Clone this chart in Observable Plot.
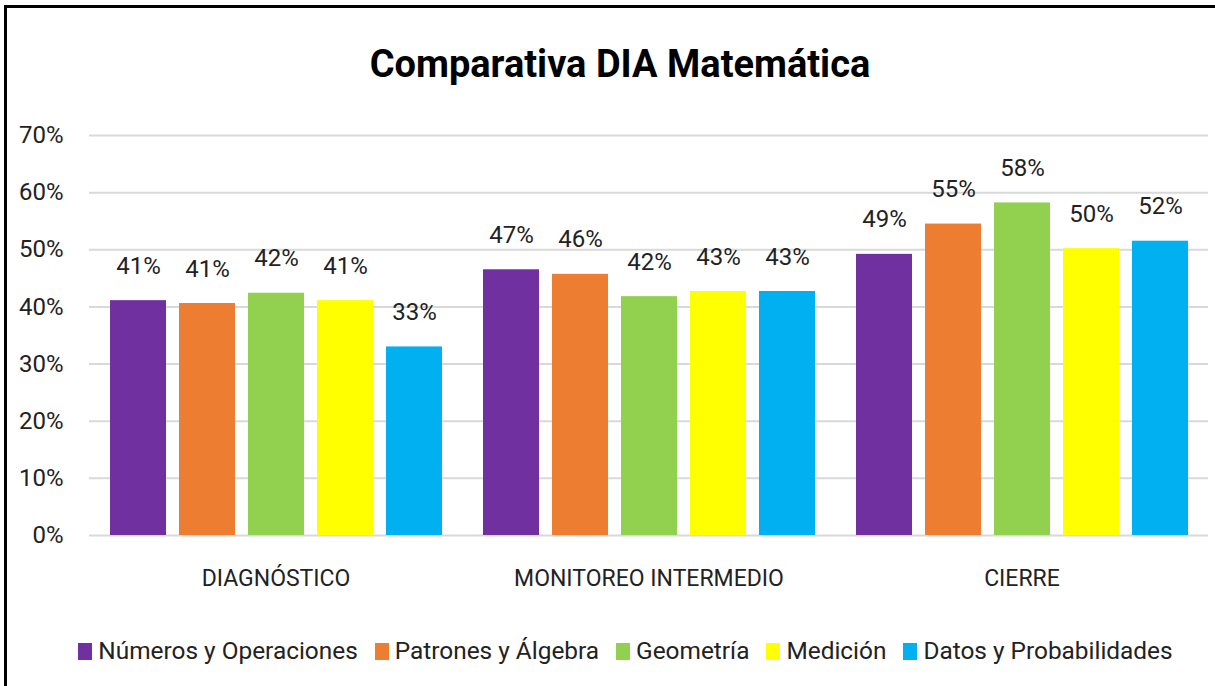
<!DOCTYPE html>
<html>
<head>
<meta charset="utf-8">
<script src="https://cdn.jsdelivr.net/npm/d3@7"></script>
<script src="https://cdn.jsdelivr.net/npm/@observablehq/plot@0.6"></script>
<style>
  html, body { margin: 0; padding: 0; background: #fff; }
  #page { position: relative; width: 1215px; height: 686px; overflow: hidden; background: #fff;
          font-family: Roboto, "Liberation Sans", sans-serif; }
  #frameTop { position: absolute; left: 4px; top: 5px; width: 1211px; height: 3px; background: #000; }
  #frameLeft { position: absolute; left: 4px; top: 5px; width: 3px; height: 681px; background: #000; }
  #title { position: absolute; left: 0; top: 45px; width: 1240px; text-align: center;
           font-size: 38px; line-height: 38px; font-weight: bold; color: #000; }
  #chart { position: absolute; left: 0; top: 0; }
  #legend { position: absolute; left: 0; top: 639px; width: 1251px; display: flex; justify-content: center;
            gap: 17px; font-size: 24.4px; line-height: 24.4px; color: #222; }
  .item { display: flex; align-items: center; white-space: nowrap; }
  .sw { width: 14px; height: 17px; margin-right: 6px; }
</style>
</head>
<body>
<div id="page">
  <div id="title">Comparativa DIA Matemática</div>
  <div id="chart"></div>
  <div id="legend"></div>
  <div id="frameTop"></div>
  <div id="frameLeft"></div>
</div>
<script>
const periods = ["DIAGNÓSTICO", "MONITOREO INTERMEDIO", "CIERRE"];
const seriesNames = ["Números y Operaciones", "Patrones y Álgebra", "Geometría", "Medición", "Datos y Probabilidades"];
const seriesColors = ["#7030A0", "#ED7D31", "#92D050", "#FFFF00", "#00B0F0"];
// values per series, in period order
const numerosOperaciones = [0.411, 0.465, 0.492];
const patronesAlgebra   = [0.406, 0.457, 0.545];
const geometria         = [0.424, 0.418, 0.582];
const medicion          = [0.411, 0.427, 0.502];
const datosProbabilidad = [0.330, 0.427, 0.515];
const yTicks = [0, 0.1, 0.2, 0.3, 0.4, 0.5, 0.6, 0.7];

const seriesValues = [numerosOperaciones, patronesAlgebra, geometria, medicion, datosProbabilidad];
const data = periods.flatMap((p, i) =>
  seriesNames.map((s, j) => ({period: p, series: s, value: seriesValues[j][i]})));

const pct = d => Math.round(d * 100) + "%";
const font = "Roboto, 'Liberation Sans', sans-serif";

const chart = Plot.plot({
  width: 1215,
  height: 610,
  marginLeft: 88,
  marginRight: 6,
  marginTop: 135,
  marginBottom: 75,
  style: {fontFamily: font, color: "#222", background: "transparent"},
  fx: {domain: periods, padding: 0, label: null},
  x: {domain: seriesNames, paddingInner: 0.19, paddingOuter: 0.29, axis: null},
  y: {domain: [0, 0.7], label: null, axis: null},
  color: {domain: seriesNames, range: seriesColors},
  marks: [
    Plot.gridY(yTicks, {stroke: "#d9d9d9", strokeOpacity: 1, strokeWidth: 2}),
    Plot.barY(data, {fx: "period", x: "series", y: "value", fill: "series"}),
    Plot.text(data, {fx: "period", x: "series", y: "value", text: d => pct(d.value),
      lineAnchor: "bottom", dy: -27, fontSize: 24, fill: "#222"}),
    Plot.axisY(yTicks, {tickFormat: pct, tickSize: 0, tickPadding: 26, fontSize: 24, label: null}),
    Plot.axisFx({anchor: "bottom", tickSize: 0, tickPadding: 34, fontSize: 23, label: null})
  ]
});
document.getElementById("chart").appendChild(chart);

const legend = document.getElementById("legend");
seriesNames.forEach((s, i) => {
  const item = document.createElement("div");
  item.className = "item";
  const sw = document.createElement("span");
  sw.className = "sw";
  sw.style.background = seriesColors[i];
  const t = document.createElement("span");
  t.textContent = s;
  item.appendChild(sw);
  item.appendChild(t);
  legend.appendChild(item);
});
</script>
</body>
</html>
